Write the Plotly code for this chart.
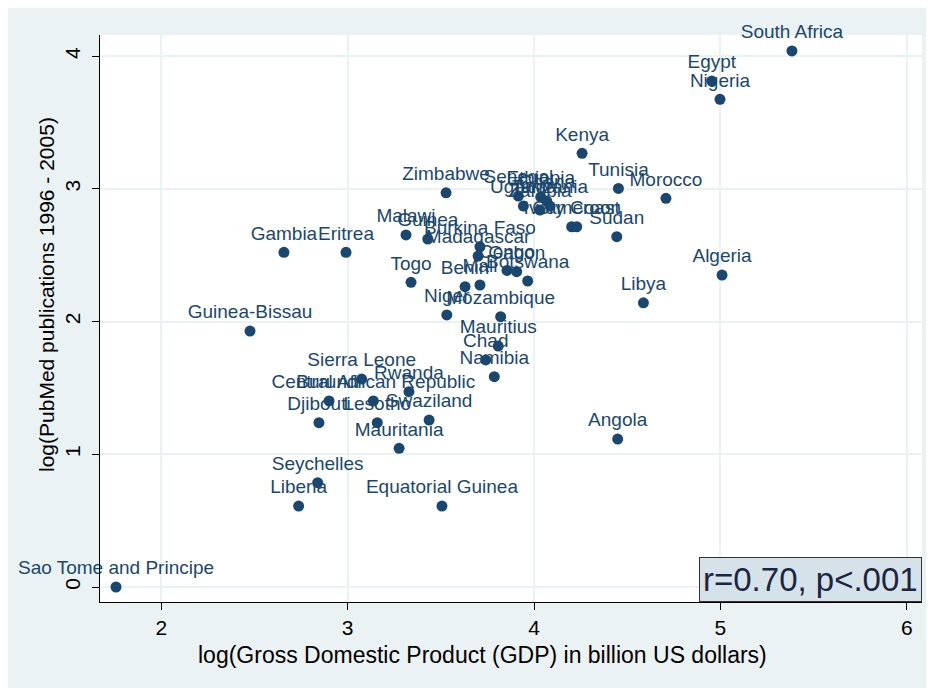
import plotly.graph_objects as go

countries = ["Sao Tome and Principe", "South Africa", "Egypt", "Nigeria", "Kenya", "Tunisia",
             "Morocco", "Sudan", "Libya", "Algeria", "Angola", "Zimbabwe", "Senegal", "Uganda",
             "Ethiopia", "Ghana", "Tanzania", "Zambia", "Ivory Coast", "Cameroon", "Malawi",
             "Guinea", "Gambia", "Eritrea", "Burkina Faso", "Madagascar", "Congo", "Gabon",
             "Botswana", "Togo", "Benin", "Mali", "Niger", "Mozambique", "Guinea-Bissau",
             "Mauritius", "Chad", "Namibia", "Sierra Leone", "Rwanda", "Central African Republic",
             "Burundi", "Djibouti", "Lesotho", "Swaziland", "Mauritania", "Seychelles", "Liberia",
             "Equatorial Guinea"]
log_gdp = [1.757, 5.384, 4.954, 4.998, 4.258, 4.453,
           4.708, 4.444, 4.587, 5.009, 4.449, 3.528, 3.916, 3.943,
           4.036, 4.068, 4.086, 4.032, 4.202, 4.229, 3.313,
           3.430, 2.658, 2.991, 3.710, 3.700, 3.855, 3.907,
           3.966, 3.340, 3.630, 3.710, 3.532, 3.821, 2.476,
           3.808, 3.741, 3.787, 3.075, 3.329, 3.138,
           2.900, 2.846, 3.159, 3.437, 3.276, 2.839, 2.737,
           3.506]
log_pubs = [0.0, 4.04, 3.813, 3.675, 3.268, 3.004,
            2.929, 2.640, 2.142, 2.351, 1.115, 2.971, 2.946, 2.871,
            2.939, 2.909, 2.871, 2.841, 2.715, 2.715, 2.653,
            2.622, 2.522, 2.522, 2.564, 2.494, 2.386, 2.376,
            2.306, 2.296, 2.263, 2.276, 2.050, 2.037, 1.929,
            1.816, 1.711, 1.585, 1.567, 1.472, 1.402,
            1.402, 1.238, 1.238, 1.258, 1.045, 0.786, 0.610,
            0.610]

x_ticks = [2, 3, 4, 5, 6]
y_ticks = [0, 1, 2, 3, 4]
x_title = "log(Gross Domestic Product (GDP) in billion US dollars)"
y_title = "log(PubMed publications 1996 - 2005)"
stat_text = "r=0.70, p<.001"

NAVY = "#1A476F"
BG = "#EAF2F3"
FONT = "Liberation Sans, Arial, sans-serif"

fig = go.Figure()
fig.add_trace(go.Scatter(
    x=log_gdp, y=log_pubs, mode="markers+text", text=countries,
    textposition="top center",
    textfont=dict(family=FONT, size=19, color=NAVY),
    marker=dict(color=NAVY, size=11, line=dict(width=0)),
    cliponaxis=False, hoverinfo="text", showlegend=False,
))

# page has an 8px body margin; figure occupies page px 8..934 / 8..688
OFF = 8
W, H = 926, 680
L, R, T, B = 92, 12, 27, 86
pw, ph = W - L - R, H - T - B

def px2paper_x(p):
    return (p - OFF - L) / pw

def px2paper_y(p):
    return (H - B - (p - OFF)) / ph

fig.update_layout(
    width=W, height=H,
    margin=dict(l=L, r=R, t=T, b=B, pad=0),
    paper_bgcolor=BG, plot_bgcolor="white",
    font=dict(family=FONT, color="black"),
    annotations=[
        dict(text=x_title, xref="paper", yref="paper", x=px2paper_x(482), y=px2paper_y(655),
             xanchor="center", yanchor="middle", showarrow=False,
             font=dict(family=FONT, size=23, color="black")),
        dict(text=y_title, xref="paper", yref="paper", x=px2paper_x(46), y=px2paper_y(295),
             xanchor="center", yanchor="middle", showarrow=False, textangle=-90,
             font=dict(family=FONT, size=21, color="black")),
        dict(text=stat_text, xref="paper", yref="paper", x=1, y=0,
             xanchor="right", yanchor="bottom", showarrow=False,
             bgcolor="#D6E2E9", bordercolor="#333333", borderwidth=1, borderpad=3,
             font=dict(family=FONT, size=33, color="#1C2541")),
    ],
)
fig.update_xaxes(
    range=[1.671, 6.082], tickvals=x_ticks, ticktext=[str(v) for v in x_ticks],
    showgrid=True, gridcolor=BG, gridwidth=2, zeroline=False,
    showline=True, linecolor="black", linewidth=1, mirror=False,
    ticks="outside", ticklen=7, tickcolor="black", tickwidth=1,
    tickfont=dict(family=FONT, size=21, color="black"),
)
fig.update_yaxes(
    range=[-0.113, 4.160], tickvals=y_ticks, ticktext=[str(v) for v in y_ticks],
    showgrid=True, gridcolor=BG, gridwidth=2, zeroline=False,
    showline=True, linecolor="black", linewidth=1, mirror=False,
    ticks="outside", ticklen=7, tickcolor="black", tickwidth=1, tickangle=-90,
    ticklabelstandoff=4,
    tickfont=dict(family=FONT, size=21, color="black"),
)

fig.write_html("out.html")
